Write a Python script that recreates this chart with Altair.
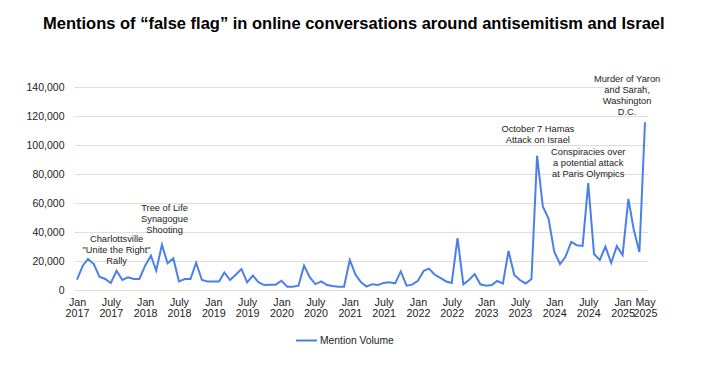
import altair as alt
import pandas as pd

# ---- data ----
start_month = "2017-01-01"
n_months = 101
mentions = [
    7100, 16800, 21400, 17900, 9200, 7600, 4800, 13300, 6900, 8700, 7600, 7600,      # 2017
    16800, 23700, 13300, 31200, 18400, 21800, 5900, 7600, 7600, 18800, 6900, 5900,   # 2018
    5900, 5900, 12100, 6900, 10500, 14500, 5200, 9900, 5200, 3400, 3700, 3700,       # 2019
    6400, 2300, 2300, 3000, 16800, 8700, 4100, 6000, 3400, 2700, 2300, 2300,         # 2020
    20700, 10500, 5500, 2400, 4000, 3500, 4900, 5300, 4600, 12800, 3000, 3700,       # 2021
    6400, 13300, 14700, 10500, 8300, 5900, 4900, 35800, 3900, 6900, 11000, 3900,     # 2022
    3000, 3400, 6200, 4500, 26900, 10300, 6900, 4500, 7600, 92600, 57400, 49500,     # 2023
    26400, 17900, 22900, 33200, 30900, 30400, 73700, 24800, 20700, 29900, 18600, 30300,  # 2024
    24100, 62800, 42100, 26200, 115700,                                               # 2025
]
series_name = "Mention Volume"

ann_texts = [
    "Charlottsville\n\"Unite the Right\"\nRally",
    "Tree of Life\nSynagogue\nShooting",
    "October 7 Hamas\nAttack on Israel",
    "Conspiracies over\na potential attack\nat Paris Olympics",
    "Murder of Yaron\nand Sarah,\nWashington\nD.C.",
]
ann_dates = ["2017-08-01", "2018-04-15", "2023-10-05", "2024-07-01", "2025-01-25"]
ann_values = [38100, 59000, 113900, 98100, 148600]

y_ticks = [0, 20000, 40000, 60000, 80000, 100000, 120000, 140000]
x_tick_dates = [(y, m) for y in range(2017, 2025) for m in (1, 7)] + [(2025, 1), (2025, 5)]

title_text = "Mentions of \u201cfalse flag\u201d in online conversations around antisemitism and Israel"

# ---- tables ----
df = pd.DataFrame({
    "date": pd.date_range(start_month, periods=n_months, freq="MS"),
    "mentions": mentions,
    "series": series_name,
})
ann = pd.DataFrame({"text": ann_texts, "date": pd.to_datetime(ann_dates), "value": ann_values})

FONT = "Liberation Sans"
BLUE = "#4a80ea"

x_scale = alt.Scale(domain=[alt.DateTime(year=2017, month=1, date=1),
                            alt.DateTime(year=2025, month=5, date=1)], padding=3)
y_scale = alt.Scale(domain=[0, 140000], nice=False, zero=True)

x_axis = alt.Axis(
    title=None, grid=False, domain=False, ticks=False,
    values=[alt.DateTime(year=y, month=m, date=1) for y, m in x_tick_dates],
    labelExpr="[month(datum.value) == 6 ? 'July' : timeFormat(datum.value, '%b'), timeFormat(datum.value, '%Y')]",
    labelFont=FONT, labelFontSize=10.7, labelColor="#222", labelPadding=7,
    labelLineHeight=11, labelOverlap=False, labelBound=False, labelFlush=False,
)
y_axis = alt.Axis(
    title=None, grid=True, gridColor="#dedede", gridWidth=1, domain=False, ticks=False,
    values=y_ticks, format=",.0f", labelFont=FONT, labelFontSize=10.5, labelColor="#222",
    labelPadding=10, labelOverlap=False,
)

line = alt.Chart(df).mark_line(strokeWidth=2).encode(
    x=alt.X("date:T", scale=x_scale, axis=x_axis),
    y=alt.Y("mentions:Q", scale=y_scale, axis=y_axis),
    color=alt.Color("series:N", scale=alt.Scale(range=[BLUE]), legend=alt.Legend(
        title=None, orient="none", legendX=221, legendY=242, symbolType="stroke",
        symbolSize=440, symbolStrokeWidth=2, labelFont=FONT, labelFontSize=10.3,
        labelColor="#222", padding=0, labelOffset=2,
    )),
)

texts = alt.Chart(ann).mark_text(
    font=FONT, fontSize=9.3, lineHeight=11, align="center", baseline="top",
    color="#222", lineBreak="\n",
).encode(
    x=alt.X("date:T", scale=x_scale, axis=x_axis),
    y=alt.Y("value:Q", scale=y_scale, axis=y_axis),
    text="text:N",
)

chart = alt.layer(line, texts).properties(
    width=574, height=203,
    title=alt.TitleParams(title_text, anchor="start", frame="group", font=FONT,
                          fontSize=16.5, fontWeight="bold", color="black", dx=-31, offset=42),
    padding={"left": 66, "top": 79, "right": 46, "bottom": 60},
    autosize=alt.AutoSizeParams(type="none"),
).configure_view(stroke=None)

chart.save("out.html", embed_options={"renderer": "svg", "actions": False})
